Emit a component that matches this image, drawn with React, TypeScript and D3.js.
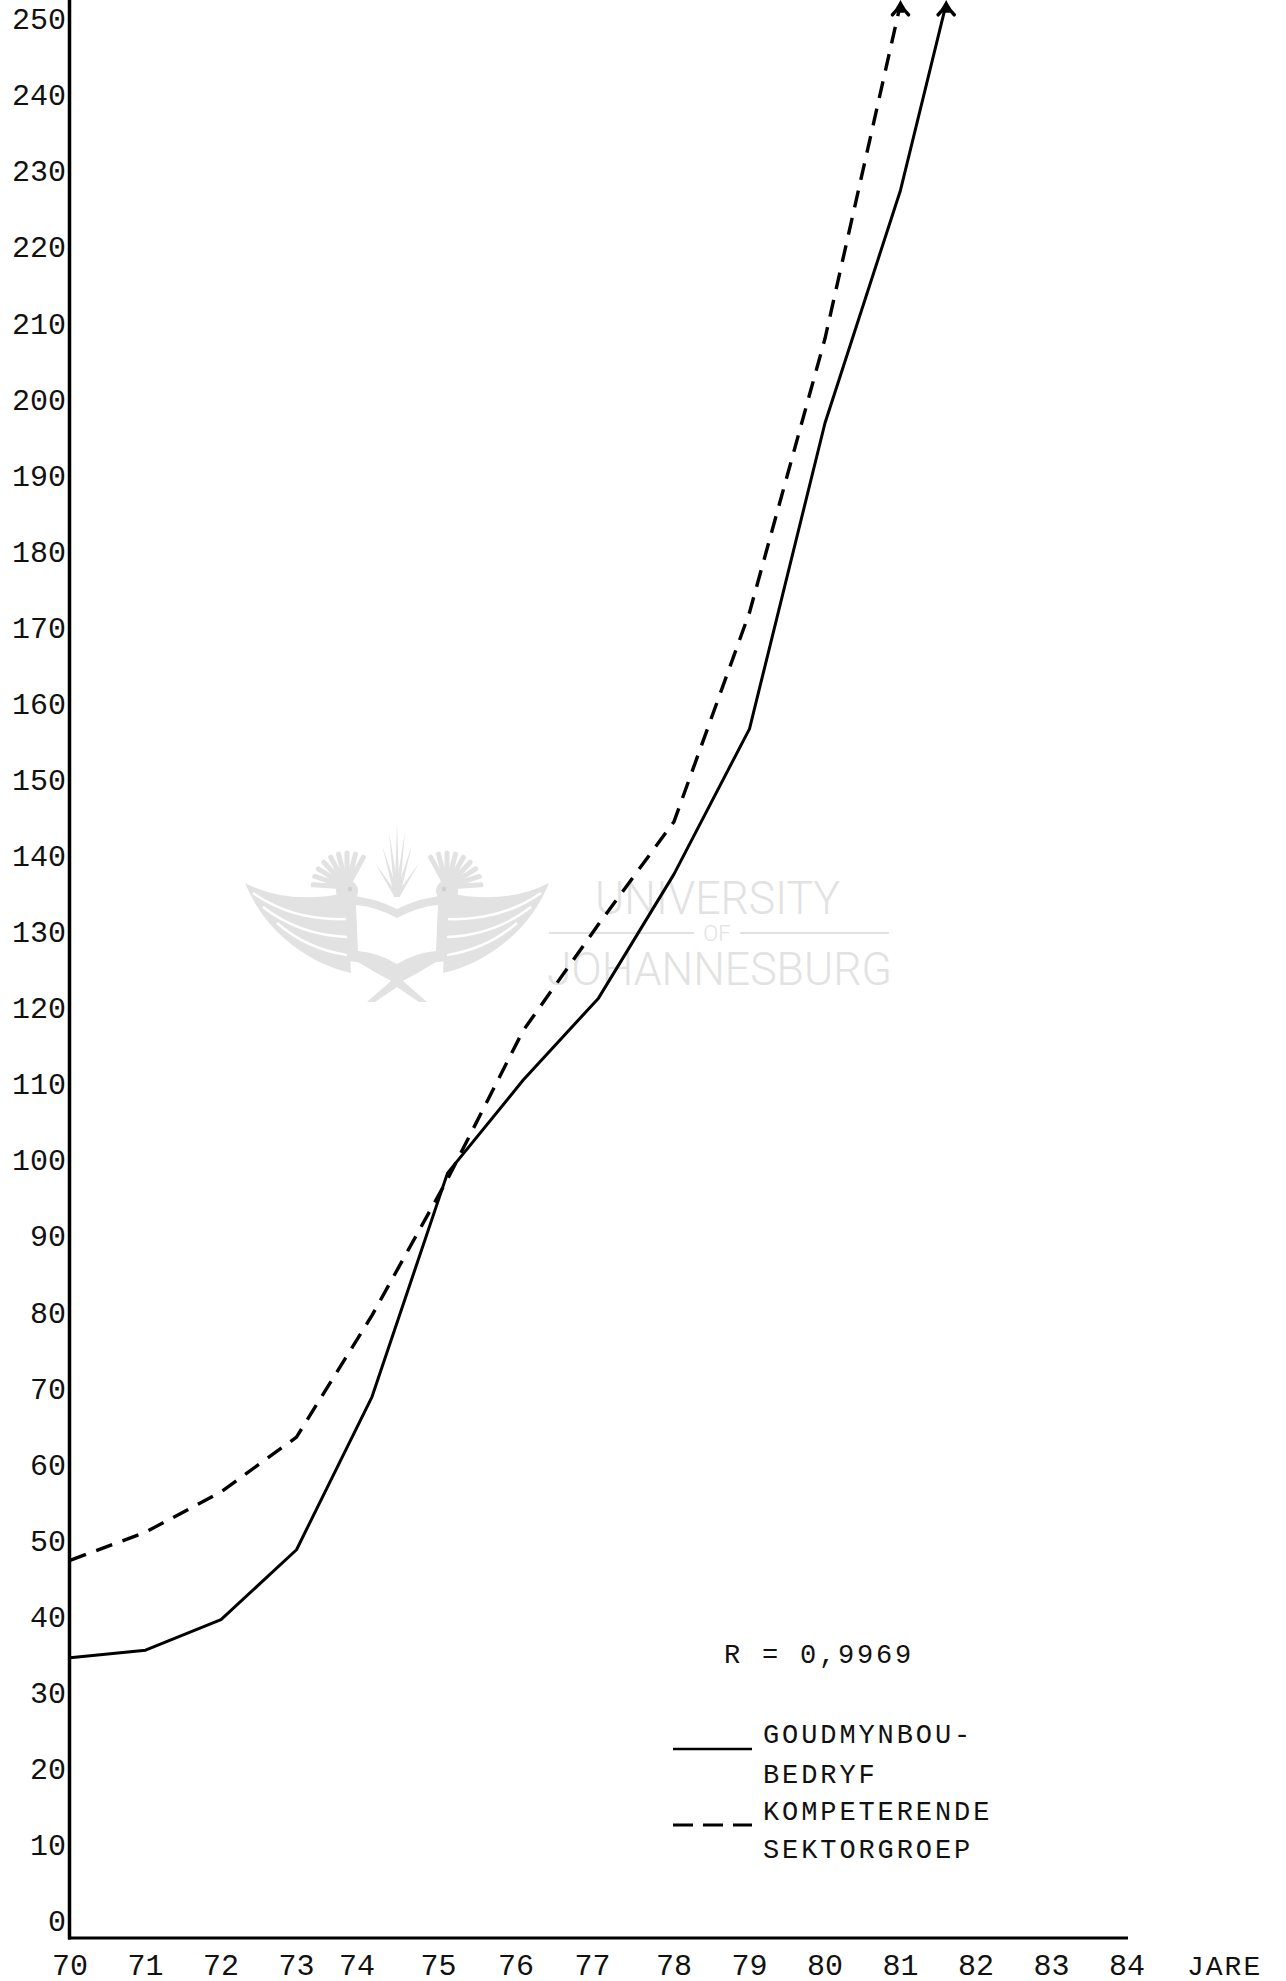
import React from 'react';
import * as d3 from 'd3';

// ---- data -------------------------------------------------------------
const goldYears = [70, 71, 72, 73, 74, 75, 76, 77, 78, 79, 80, 81, 82];
const goldValues = [34.6, 35.6, 39.6, 48.8, 68.9, 98.3, 110.5, 121.3, 137.6, 156.7, 196.9, 227.5, 268];

const sectorYears = [70, 71, 72, 73, 74, 75, 76, 77, 78, 79, 80, 81];
const sectorValues = [47.4, 51.1, 56.4, 63.6, 79.6, 97.5, 117, 131, 144.5, 172, 208, 252];

const xTickYears = [70, 71, 72, 73, 74, 75, 76, 77, 78, 79, 80, 81, 82, 83, 84];
const yTickValues = [0, 10, 20, 30, 40, 50, 60, 70, 80, 90, 100, 110, 120, 130, 140, 150, 160, 170, 180, 190, 200, 210, 220, 230, 240, 250];
const xAxisTitle = 'JARE';
const correlationText = 'R = 0,9969';
const goldLegend = ['GOUDMYNBOU-', 'BEDRYF'];
const sectorLegend = ['KOMPETERENDE', 'SEKTORGROEP'];
const valueCap = 252; // lines leaving the top of the frame end in an arrow

// ---- layout -----------------------------------------------------------
const W = 1286;
const H = 1981;
const axisLeft = 69.5;
const axisBottom = 1938;
const axisRight = 1128;
const mono = "'Liberation Mono', 'DejaVu Sans Mono', monospace";
const wm = '#e2e2e2';
// typed year labels that sit a little off their tick
const xLabelNudge: Record<number, number> = { 74: -15, 75: -9, 76: -7, 77: -6 };

const x = d3.scaleLinear().domain([70, 84]).range([70, 1127]);
const y = d3.scaleLinear().domain([0, 250]).range([1921, 19]);

type Pt = [number, number];

function cutAtCap(pts: Pt[], cap: number): { pts: Pt[]; capped: boolean } {
  const out: Pt[] = [];
  for (let i = 0; i < pts.length; i++) {
    const [yr, v] = pts[i];
    if (v < cap) {
      out.push([yr, v]);
      continue;
    }
    if (i === 0) return { pts: out, capped: true };
    const [yr0, v0] = pts[i - 1];
    const t = (cap - v0) / (v - v0);
    out.push([yr0 + t * (yr - yr0), cap]);
    return { pts: out, capped: true };
  }
  return { pts: out, capped: false };
}

const line = d3
  .line<Pt>()
  .x((d) => x(d[0]))
  .y((d) => y(d[1]))
  .curve(d3.curveLinear);

function ArrowHead({ px, py }: { px: number; py: number }) {
  return (
    <g>
      <path
        d={`M ${px - 8} ${py + 11} Q ${px - 3} ${py + 6} ${px} ${py} Q ${px + 3} ${py + 6} ${px + 8} ${py + 11}`}
        fill="none"
        stroke="#000"
        strokeWidth={3.5}
        strokeLinecap="round"
      />
      <path d={`M ${px} ${py - 1} L ${px - 4} ${py + 9} L ${px + 4} ${py + 9} Z`} fill="#000" />
    </g>
  );
}

function Emblem() {
  const rays: Pt[] = [
    [-22, 40],
    [-15, 22],
    [-8, 8],
    [0, 0],
    [8, 8],
    [15, 22],
    [22, 40],
  ];
  const crest = d3.range(9).map((i) => Math.PI * (1.02 + i * 0.08));
  const half = (
    <g>
      {/* spread wing */}
      <path d="M -152 60 Q -110 82 -50 70 L -46 150 Q -82 142 -112 116 Q -138 94 -152 60 Z" fill={wm} />
      <path d="M -144 70 Q -104 98 -50 96" stroke="#fff" strokeWidth={2.5} fill="none" />
      <path d="M -134 84 Q -98 112 -50 114" stroke="#fff" strokeWidth={2.5} fill="none" />
      <path d="M -120 100 Q -90 126 -50 132" stroke="#fff" strokeWidth={2.5} fill="none" />
      {/* crest */}
      {crest.map((a, i) => (
        <line
          key={i}
          x1={-50}
          y1={64}
          x2={-50 + 34 * Math.cos(a)}
          y2={64 + 34 * Math.sin(a)}
          stroke={wm}
          strokeWidth={5}
          strokeLinecap="round"
        />
      ))}
      <circle cx={-50} cy={68} r={11} fill={wm} />
      <circle cx={-47} cy={66} r={2.2} fill="#cfcfcf" />
      {/* body and tail */}
      <path d="M -66 120 L -44 136 Q -22 150 2 162 L 2 149 Q -22 136 -42 118 Z" fill={wm} />
      <path d="M 3 150 L -30 179 L -22 179 L 6 160 Z" fill={wm} />
    </g>
  );
  return (
    <g transform="translate(397,823)">
      {rays.map(([tx, ty], i) => (
        <path key={i} d={`M -2.5 74 L ${tx} ${ty} L 2.5 74 Z`} fill={wm} />
      ))}
      {half}
      <g transform="scale(-1,1)">{half}</g>
      <path d="M -52 72 Q -24 74 0 86 Q 24 74 52 72 L 49 138 Q 20 140 0 152 Q -20 140 -49 138 Z" fill={wm} />
      <path d="M -41 82 Q -20 84 0 95 Q 20 84 41 82 L 39 128 Q 18 130 0 141 Q -18 130 -39 128 Z" fill="#fff" />
    </g>
  );
}

function Watermark() {
  const sans = "Roboto, 'Open Sans', 'Noto Sans', sans-serif";
  return (
    <g>
      <Emblem />
      <text x={595} y={914} fontFamily={sans} fontWeight={300} fontSize={46} fill={wm} textLength={245} lengthAdjust="spacingAndGlyphs">
        UNIVERSITY
      </text>
      <line x1={549} x2={694} y1={933} y2={933} stroke={wm} strokeWidth={2} />
      <line x1={740} x2={889} y1={933} y2={933} stroke={wm} strokeWidth={2} />
      <text x={717} y={941} textAnchor="middle" fontFamily={sans} fontWeight={300} fontSize={22} fill={wm}>
        OF
      </text>
      <text x={547} y={985} fontFamily={sans} fontWeight={300} fontSize={46} fill={wm} textLength={345} lengthAdjust="spacingAndGlyphs">
        JOHANNESBURG
      </text>
    </g>
  );
}

export default function App() {
  const gold = cutAtCap(goldYears.map((yr, i) => [yr, goldValues[i]] as Pt), valueCap);
  const sector = cutAtCap(sectorYears.map((yr, i) => [yr, sectorValues[i]] as Pt), valueCap);
  const goldEnd = gold.pts[gold.pts.length - 1];
  const sectorEnd = sector.pts[sector.pts.length - 1];

  return (
    <svg
      width={W}
      height={H}
      viewBox={`0 0 ${W} ${H}`}
      style={{ position: 'absolute', left: 0, top: 0, display: 'block', background: '#fff' }}
    >
      <rect x={0} y={0} width={W} height={H} fill="#fff" />
      <Watermark />

      {/* axes */}
      <line x1={axisLeft} x2={axisLeft} y1={0} y2={axisBottom + 1.5} stroke="#000" strokeWidth={3.5} />
      <line x1={axisLeft - 1.5} x2={axisRight} y1={axisBottom} y2={axisBottom} stroke="#000" strokeWidth={3.2} />

      {yTickValues.map((v) => (
        <text key={v} x={66} y={y(v)} dy="0.34em" textAnchor="end" fontFamily={mono} fontSize={30} fill="#111">
          {v}
        </text>
      ))}
      {xTickYears.map((yr) => (
        <text
          key={yr}
          x={x(yr) + (xLabelNudge[yr] ?? 0)}
          y={1975}
          textAnchor="middle"
          fontFamily={mono}
          fontSize={30}
          fill="#111"
        >
          {yr}
        </text>
      ))}
      <text x={1187} y={1975} fontFamily={mono} fontSize={28} letterSpacing={2} fill="#111">
        {xAxisTitle}
      </text>

      {/* series */}
      <path d={line(gold.pts) ?? ''} fill="none" stroke="#000" strokeWidth={3} strokeLinejoin="round" />
      <path
        d={line(sector.pts) ?? ''}
        fill="none"
        stroke="#000"
        strokeWidth={3.4}
        strokeDasharray="17 11"
        strokeLinejoin="round"
      />
      {gold.capped && <ArrowHead px={x(goldEnd[0])} py={y(goldEnd[1])} />}
      {(sector.capped || sectorEnd[1] >= valueCap) && <ArrowHead px={x(sectorEnd[0])} py={y(sectorEnd[1])} />}

      {/* annotation and legend */}
      <text x={724} y={1663} fontFamily={mono} fontSize={27} letterSpacing={2.8} fill="#111">
        {correlationText}
      </text>
      <line x1={673} x2={752} y1={1749} y2={1749} stroke="#000" strokeWidth={2.5} />
      <line x1={673} x2={752} y1={1825} y2={1825} stroke="#000" strokeWidth={2.8} strokeDasharray="20 10" />
      {goldLegend.map((t, i) => (
        <text key={t} x={763} y={1743 + i * 40} fontFamily={mono} fontSize={27} letterSpacing={2.9} fill="#111">
          {t}
        </text>
      ))}
      {sectorLegend.map((t, i) => (
        <text key={t} x={763} y={1820 + i * 38} fontFamily={mono} fontSize={27} letterSpacing={2.9} fill="#111">
          {t}
        </text>
      ))}
    </svg>
  );
}
